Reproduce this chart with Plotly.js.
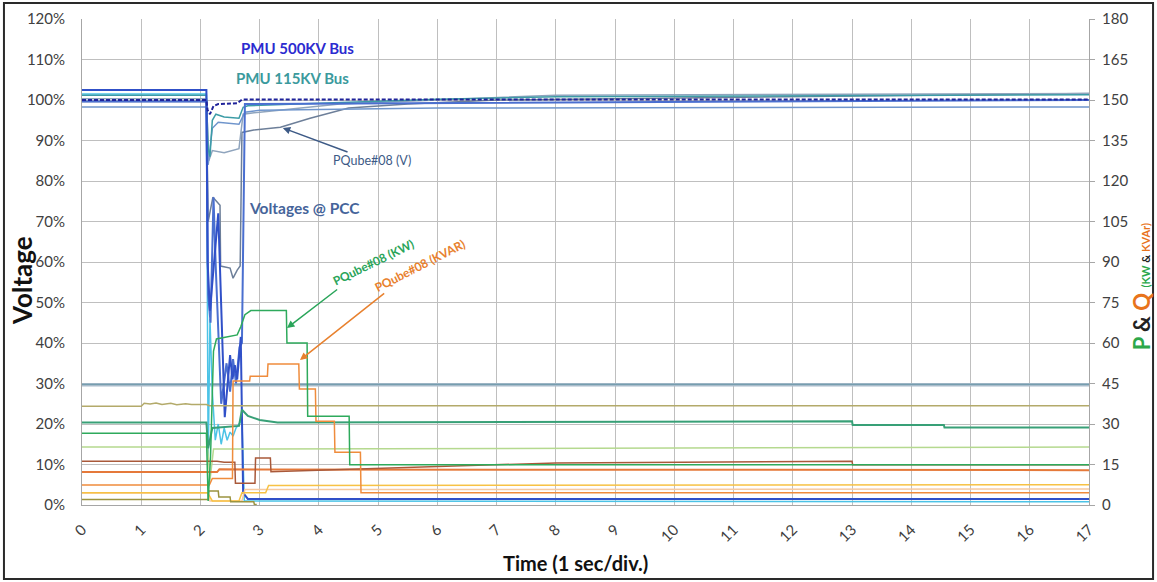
<!DOCTYPE html>
<html>
<head>
<meta charset="utf-8">
<script src="https://cdn.plot.ly/plotly-3.0.1.min.js"></script>
<style>html,body{margin:0;padding:0;background:#fff;}#chart{width:1157px;height:582px;}</style>
</head>
<body>
<div id="chart"></div>
<script>
// ---------- Voltage series (left axis, %) ----------
const pmu500T = [0, 2.1, 2.12, 2.16, 2.22, 2.3, 2.62, 2.7, 17];
const pmu500V = [100, 100, 97.5, 96.5, 98.5, 99, 99.2, 100.1, 100.1];

const busAT = [0, 2.1, 2.12, 2.16, 2.3, 2.41, 2.5, 2.54, 2.58, 2.62, 2.68, 2.72, 2.8, 17];
const busAV = [102.5, 102.5, 60, 48, 72, 21.7, 37, 31, 34.5, 31, 41.5, 3, 1.5, 1.5];

const busBT = [0, 2.1, 2.13, 2.17, 2.22, 2.26, 2.35, 2.44, 2.5, 2.55, 2.6, 2.66, 2.7, 2.75, 17];
const busBV = [99.6, 99.6, 52, 45, 76, 58, 25, 35, 28, 36, 30, 39, 40, 99, 100];

const pmu115T = [0, 2.1, 2.13, 2.16, 2.2, 2.26, 2.4, 2.65, 2.72, 2.8, 4, 6, 8, 17];
const pmu115V = [101.2, 101.2, 88, 86, 95, 96.5, 95.8, 95.5, 98.2, 98.6, 99.2, 100.2, 100.8, 101.3];

const lightBlueT = [0, 2.1, 2.13, 2.2, 2.3, 2.65, 2.75, 3, 6, 17];
const lightBlueV = [98.3, 98.3, 84, 93, 94.5, 94, 97, 97.5, 98, 98.3];

const pqVT = [0, 2.1, 2.13, 2.18, 2.21, 2.33, 2.34, 2.5, 2.55, 2.62, 2.67, 2.7, 2.9, 3.35, 3.85, 4.5, 5.5, 7, 17];
const pqVV = [99.6, 99.6, 70, 74, 76, 74, 59, 58.5, 56, 58, 59, 92, 92.6, 93.3, 95.5, 98, 99, 100, 101.6];

const pq2T = [0, 2.1, 2.14, 2.2, 2.4, 2.65, 2.72, 3, 4.35, 6, 8, 17];
const pq2V = [100.3, 100.3, 85, 87.5, 87, 88, 96.5, 97, 99, 100, 101.2, 101.6];

const cyanT = [0, 2.1, 2.13, 2.16, 2.2, 2.25, 2.3, 2.35, 2.4, 2.45, 2.5, 2.55, 2.6, 2.65, 2.7, 2.74, 17];
const cyanV = [101.5, 101.5, 10, 46, 28, 16, 20, 15, 19, 16, 18, 17, 19, 20, 21, 1, 0.8];

const bandT = [0, 17];
const bandV = [29.7, 29.7];

// ---------- P & Q series (right axis, kW / kVAr) ----------
const oliveT = [0, 1, 1.05, 1.15, 1.25, 1.35, 1.5, 1.6, 1.75, 1.85, 2.1, 2.15, 17];
const oliveQ = [36.6, 36.6, 37.7, 37.4, 37.8, 37.2, 37.7, 37.1, 37.5, 37.2, 37.2, 36.8, 36.8];

const green20T = [0, 2.1, 2.13, 2.2, 2.65, 2.7, 2.8, 3, 3.3, 13, 13.01, 14.55, 14.56, 17];
const green20P = [30.6, 30.6, 21, 28.5, 29.3, 35.3, 33, 31.5, 30.6, 31, 29.6, 29.6, 28.7, 28.7];

const kwT = [0, 2.1, 2.13, 2.17, 2.22, 2.27, 2.62, 2.68, 2.75, 2.85, 3.45, 3.46, 3.8, 3.81, 4.51, 4.52, 17];
const kwP = [26.6, 26.6, 1.5, 18, 57, 61.5, 63, 66, 70.5, 72, 72, 60, 60, 32.9, 32.9, 14.9, 14.9];

const lightGreenT = [0, 2.12, 2.16, 2.22, 17];
const lightGreenP = [21.5, 21.5, 9, 20.7, 21.5];

const brownT = [0, 2.28, 2.4, 2.58, 2.59, 2.92, 2.93, 3.18, 3.19, 8, 13, 13.01, 17];
const brownQ = [16.2, 16.2, 15.8, 15.8, 8.1, 8.1, 17.4, 17.4, 12.3, 15.6, 16.2, 14.9, 14.9];

const orangeT = [0, 2.28, 2.32, 17];
const orangeQ = [12.2, 12.2, 13.2, 12.9];

const kvarT = [0, 2.15, 2.2, 2.54, 2.55, 2.83, 2.84, 3.13, 3.14, 3.66, 3.67, 3.94, 3.95, 4.26, 4.27, 4.7, 4.71, 17];
const kvarQ = [7.4, 7.4, 9.8, 9.8, 45.9, 45.9, 47.7, 47.7, 52.2, 52.2, 43, 43, 31, 31, 19.5, 19.5, 4.5, 4.5];

const yellowT = [0, 2.12, 2.2, 2.65, 2.7, 3.1, 3.15, 17];
const yellowQ = [4.5, 4.5, 1.5, 1.5, 4.5, 4.5, 7.2, 7.5];

const peachT = [0, 2.12, 2.16, 2.7, 2.75, 17];
const peachQ = [4.4, 4.4, 1.5, 1.5, 5.7, 5.9];

const olive2T = [0, 2.13, 2.14, 2.3, 2.31, 2.5, 2.51, 2.9, 2.91, 2.95];
const olive2P = [2, 2, 5.2, 5.2, 3, 3, 1.2, 1.2, 0.2, 0.2];

// ---------- axis ticks ----------
const xTicks = [0,1,2,3,4,5,6,7,8,9,10,11,12,13,14,15,16,17];
const yTicks = [0,10,20,30,40,50,60,70,80,90,100,110,120];
const y2Ticks = [0,15,30,45,60,75,90,105,120,135,150,165,180];

function ln(x, y, color, width, axis, dash) {
  return {x: x, y: y, type: 'scatter', mode: 'lines', yaxis: axis || 'y',
          line: {color: color, width: width, dash: dash || 'solid'},
          hoverinfo: 'skip', showlegend: false};
}

const traces = [
  ln(bandT, bandV, '#a9bccb', 3.5, 'y'),
  ln(bandT, [29.8, 29.8], '#6a97a8', 1, 'y'),
  ln(oliveT, oliveQ, '#b3aa6a', 1.5, 'y2'),
  ln(lightGreenT, lightGreenP, '#b5d98f', 1.5, 'y2'),
  ln(peachT, peachQ, '#f6c9a0', 1.5, 'y2'),
  ln(yellowT, yellowQ, '#f7c244', 1.5, 'y2'),
  ln(olive2T, olive2P, '#9c9440', 1.5, 'y2'),
  ln(orangeT, orangeQ, '#e5793a', 2, 'y2'),
  ln(brownT, brownQ, '#a9593a', 1.5, 'y2'),
  ln(green20T, green20P, '#38a077', 2, 'y2'),
  ln(kvarT, kvarQ, '#ef8c3c', 1.5, 'y2'),
  ln(kwT, kwP, '#2eaa5c', 1.5, 'y2'),
  ln(cyanT, cyanV, '#4cc3e6', 1.5, 'y'),
  ln(pqVT, pqVV, '#6d7f99', 1.5, 'y'),
  ln(pq2T, pq2V, '#8fa4bd', 1.5, 'y'),
  ln(lightBlueT, lightBlueV, '#6f95cc', 1.5, 'y'),
  ln(pmu115T, pmu115V, '#3c9ca6', 1.5, 'y'),
  ln(busBT, busBV, '#4a6fd0', 2, 'y'),
  ln(busAT, busAV, '#3050c8', 2, 'y'),
  ln(pmu500T, pmu500V, '#1f239a', 2, 'y', '4px,2px')
];

const F = 'Lato, "Open Sans", sans-serif';
const layout = {
  width: 1157, height: 582,
  margin: {l: 82, r: 68, t: 19, b: 77, pad: 0},
  paper_bgcolor: '#ffffff', plot_bgcolor: '#ffffff',
  font: {family: F, color: '#404040', size: 15},
  xaxis: {range: [0, 17], tickvals: xTicks, ticktext: xTicks.map(String), tickangle: -45,
          showgrid: true, gridcolor: '#bfbfbf', gridwidth: 1, zeroline: false,
          showline: true, linecolor: '#a6a6a6', linewidth: 1, ticks: '',
          tickfont: {family: F, size: 15, color: '#404040'}, ticklabelstandoff: 9},
  yaxis: {range: [0, 120], tickvals: yTicks, ticktext: yTicks.map(v => v + '%'),
          showgrid: true, gridcolor: '#bfbfbf', gridwidth: 1, zeroline: false,
          showline: true, linecolor: '#a6a6a6', linewidth: 1, ticks: '',
          tickfont: {family: F, size: 15, color: '#404040'}, ticklabelstandoff: 13},
  yaxis2: {range: [0, 180], tickvals: y2Ticks, overlaying: 'y', side: 'right',
           showgrid: false, zeroline: false, showline: true, linecolor: '#a6a6a6',
           ticks: 'outside', ticklen: 5, tickcolor: '#a6a6a6',
           tickfont: {family: F, size: 15, color: '#404040'}, ticklabelstandoff: 4},
  shapes: [{type: 'rect', xref: 'paper', yref: 'paper', x0: -0.0775, x1: 1.0636, y0: -0.1523, y1: 1.0329,
            line: {color: '#2a2a2a', width: 2}, fillcolor: 'rgba(0,0,0,0)', layer: 'below'}],
  annotations: [
    {xref: 'paper', yref: 'paper', x: -0.0596, y: 0.463, xanchor: 'center', yanchor: 'middle',
     text: '<b>Voltage</b>', textangle: -90,
     showarrow: false, font: {family: F, size: 26, color: '#111'}},
    {xref: 'paper', yref: 'paper', x: 0.4896, y: -0.1193, xanchor: 'center', yanchor: 'middle',
     text: '<b>Time (1 sec/div.)</b>',
     showarrow: false, font: {family: F, size: 20, color: '#111'}},
    {xref: 'paper', yref: 'paper', x: 1.0516, y: 0.45, xanchor: 'center', yanchor: 'middle',
     textangle: -90, showarrow: false,
     font: {family: F, size: 22, color: '#222'},
     text: '<b><span style="color:#2ca84a">P</span> &amp; <span style="color:#e8741c">Q</span> <span style="font-size:11px"><span style="color:#2ca84a">(KW</span> &amp; <span style="color:#e8741c">KVAr)</span></span></b>'},
    {x: 3.63, y: 112.8, xref: 'x', yref: 'y', text: '<b>PMU 500KV Bus</b>', showarrow: false,
     font: {family: F, size: 15, color: '#2b2bd0'}},
    {x: 3.56, y: 105.4, xref: 'x', yref: 'y', text: '<b>PMU 115KV Bus</b>', showarrow: false,
     font: {family: F, size: 15, color: '#3b9a9d'}},
    {x: 3.76, y: 73.3, xref: 'x', yref: 'y', text: '<b>Voltages @ PCC</b>', showarrow: false,
     font: {family: F, size: 15.5, color: '#45649a'}},
    {x: 3.39, y: 93.1, xref: 'x', yref: 'y', text: 'PQube#08 (V)', showarrow: true,
     ax: 89, ay: 33, arrowhead: 2, arrowsize: 1, arrowwidth: 1.5, arrowcolor: '#3d5a86',
     font: {family: F, size: 12.5, color: '#3d5a86'}},
    {x: 3.46, y: 43.7, xref: 'x', yref: 'y', text: '<b>PQube#08 (KW)</b>', showarrow: true, textangle: -26,
     ax: 86, ay: -66, arrowhead: 2, arrowsize: 1, arrowwidth: 1.5, arrowcolor: '#2aa55a',
     font: {family: F, size: 12, color: '#2aa55a'}},
    {x: 3.68, y: 35.8, xref: 'x', yref: 'y', text: '<b>PQube#08 (KVAR)</b>', showarrow: true, textangle: -27,
     ax: 120, ay: -95, arrowhead: 2, arrowsize: 1, arrowwidth: 1.5, arrowcolor: '#e8812e',
     font: {family: F, size: 12, color: '#e8812e'}}
  ]
};

Plotly.newPlot('chart', traces, layout, {displayModeBar: false, staticPlot: true});
</script>
</body>
</html>
